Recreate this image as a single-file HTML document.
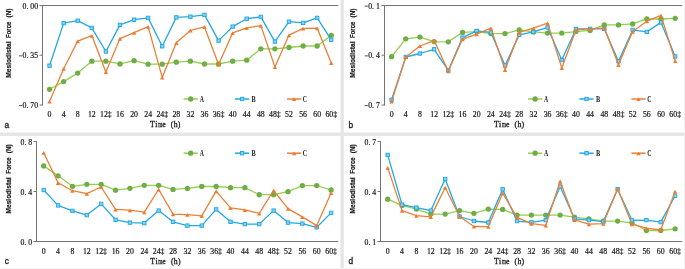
<!DOCTYPE html>
<html><head><meta charset="utf-8"><title>Mesiodistal force charts</title>
<style>
html,body{margin:0;padding:0;background:#fff;}
body{width:685px;height:269px;overflow:hidden;}
svg{display:block;will-change:transform;}
.t{font-family:"Liberation Serif",serif;font-size:7.80px;fill:#111;stroke:#111;stroke-width:0.18px;}
.lg{font-family:"Liberation Serif",serif;font-size:8.2px;font-weight:bold;fill:#222;}
.tt{font-family:"Liberation Serif",serif;font-size:7.8px;fill:#1a1a1a;stroke:#1a1a1a;stroke-width:0.3px;}
.yt{font-family:"Liberation Sans",sans-serif;font-size:6.9px;font-weight:bold;fill:#1a1a1a;stroke:#1a1a1a;stroke-width:0.2px;}
.pl{font-family:"Liberation Sans",sans-serif;font-size:8.3px;fill:#1a1a1a;stroke:#1a1a1a;stroke-width:0.3px;}
</style></head>
<body>
<svg width="685" height="269" viewBox="0 0 685 269">
<rect width="685" height="269" fill="#fff"/>
<rect x="340.5" y="0" width="3.3" height="269" fill="#e3e5e7"/>
<rect x="0" y="132.5" width="685" height="3.4" fill="#e3e5e7"/>
<rect x="684" y="0" width="1" height="269" fill="#f1f1f1"/>
<rect x="0" y="268" width="685" height="1" fill="#f5f5f5"/>
<path d="M42.5 5.0V105.5" stroke="#747474" stroke-width="1" fill="none"/>
<path d="M39.5 5.5H42.5" stroke="#747474" stroke-width="1"/>
<path d="M39.5 55.2H42.5" stroke="#747474" stroke-width="1"/>
<path d="M39.5 105.0H42.5" stroke="#747474" stroke-width="1"/>
<path d="M42.5 5.5H338.3" stroke="#747474" stroke-width="1"/>
<text class="t" x="22.50 26.40 30.30 34.20" y="8.70">0.00</text>
<rect x="19.00" y="55.45" width="3.2" height="0.85" fill="#3a3a3a"/><text class="t" x="22.50 26.40 30.30 34.20" y="58.45">0.35</text>
<rect x="19.00" y="105.20" width="3.2" height="0.85" fill="#3a3a3a"/><text class="t" x="22.50 26.40 30.30 34.20" y="108.20">0.70</text>
<text class="t" x="47.59" y="117.00">0</text>
<text class="t" x="61.68" y="117.00">4</text>
<text class="t" x="75.76" y="117.00">8</text>
<text class="t" x="87.90 91.80" y="117.00">12</text>
<text class="t" x="100.04 103.94 107.84" y="117.00">12‡</text>
<text class="t" x="116.07 119.97" y="117.00">16</text>
<text class="t" x="130.16 134.06" y="117.00">20</text>
<text class="t" x="144.24 148.14" y="117.00">24</text>
<text class="t" x="156.38 160.28 164.18" y="117.00">24‡</text>
<text class="t" x="172.41 176.31" y="117.00">28</text>
<text class="t" x="186.50 190.40" y="117.00">32</text>
<text class="t" x="200.59 204.49" y="117.00">36</text>
<text class="t" x="212.72 216.62 220.52" y="117.00">36‡</text>
<text class="t" x="228.76 232.66" y="117.00">40</text>
<text class="t" x="242.84 246.74" y="117.00">44</text>
<text class="t" x="256.93 260.83" y="117.00">48</text>
<text class="t" x="269.06 272.96 276.86" y="117.00">48‡</text>
<text class="t" x="285.10 289.00" y="117.00">52</text>
<text class="t" x="299.19 303.09" y="117.00">56</text>
<text class="t" x="313.27 317.17" y="117.00">60</text>
<text class="t" x="325.41 329.31 333.21" y="117.00">60‡</text>
<polyline points="49.54,89.30 63.63,81.60 77.71,73.10 91.80,61.20 105.89,61.20 119.97,63.90 134.06,60.70 148.14,64.20 162.23,64.20 176.31,62.20 190.40,61.20 204.49,64.00 218.57,64.00 232.66,61.20 246.74,60.20 260.83,48.80 274.91,48.80 289.00,47.50 303.09,46.00 317.17,46.00 331.26,35.30" fill="none" stroke="#92cf52" stroke-width="1.3" stroke-linejoin="round"/>
<circle cx="49.54" cy="89.30" r="2.65" fill="#6fad45"/>
<circle cx="63.63" cy="81.60" r="2.65" fill="#6fad45"/>
<circle cx="77.71" cy="73.10" r="2.65" fill="#6fad45"/>
<circle cx="91.80" cy="61.20" r="2.65" fill="#6fad45"/>
<circle cx="105.89" cy="61.20" r="2.65" fill="#6fad45"/>
<circle cx="119.97" cy="63.90" r="2.65" fill="#6fad45"/>
<circle cx="134.06" cy="60.70" r="2.65" fill="#6fad45"/>
<circle cx="148.14" cy="64.20" r="2.65" fill="#6fad45"/>
<circle cx="162.23" cy="64.20" r="2.65" fill="#6fad45"/>
<circle cx="176.31" cy="62.20" r="2.65" fill="#6fad45"/>
<circle cx="190.40" cy="61.20" r="2.65" fill="#6fad45"/>
<circle cx="204.49" cy="64.00" r="2.65" fill="#6fad45"/>
<circle cx="218.57" cy="64.00" r="2.65" fill="#6fad45"/>
<circle cx="232.66" cy="61.20" r="2.65" fill="#6fad45"/>
<circle cx="246.74" cy="60.20" r="2.65" fill="#6fad45"/>
<circle cx="260.83" cy="48.80" r="2.65" fill="#6fad45"/>
<circle cx="274.91" cy="48.80" r="2.65" fill="#6fad45"/>
<circle cx="289.00" cy="47.50" r="2.65" fill="#6fad45"/>
<circle cx="303.09" cy="46.00" r="2.65" fill="#6fad45"/>
<circle cx="317.17" cy="46.00" r="2.65" fill="#6fad45"/>
<circle cx="331.26" cy="35.30" r="2.65" fill="#6fad45"/>
<polyline points="49.54,65.70 63.63,23.10 77.71,20.70 91.80,27.90 105.89,51.50 119.97,24.90 134.06,19.70 148.14,17.90 162.23,46.30 176.31,17.40 190.40,16.70 204.49,14.90 218.57,40.60 232.66,26.60 246.74,18.70 260.83,16.90 274.91,41.60 289.00,21.70 303.09,22.90 317.17,17.90 331.26,39.80" fill="none" stroke="#25a8e1" stroke-width="1.3" stroke-linejoin="round"/>
<rect x="47.84" y="64.00" width="3.4" height="3.4" fill="#86d0f2" stroke="#1fa6e0" stroke-width="0.9"/>
<rect x="61.93" y="21.40" width="3.4" height="3.4" fill="#86d0f2" stroke="#1fa6e0" stroke-width="0.9"/>
<rect x="76.01" y="19.00" width="3.4" height="3.4" fill="#86d0f2" stroke="#1fa6e0" stroke-width="0.9"/>
<rect x="90.10" y="26.20" width="3.4" height="3.4" fill="#86d0f2" stroke="#1fa6e0" stroke-width="0.9"/>
<rect x="104.19" y="49.80" width="3.4" height="3.4" fill="#86d0f2" stroke="#1fa6e0" stroke-width="0.9"/>
<rect x="118.27" y="23.20" width="3.4" height="3.4" fill="#86d0f2" stroke="#1fa6e0" stroke-width="0.9"/>
<rect x="132.36" y="18.00" width="3.4" height="3.4" fill="#86d0f2" stroke="#1fa6e0" stroke-width="0.9"/>
<rect x="146.44" y="16.20" width="3.4" height="3.4" fill="#86d0f2" stroke="#1fa6e0" stroke-width="0.9"/>
<rect x="160.53" y="44.60" width="3.4" height="3.4" fill="#86d0f2" stroke="#1fa6e0" stroke-width="0.9"/>
<rect x="174.61" y="15.70" width="3.4" height="3.4" fill="#86d0f2" stroke="#1fa6e0" stroke-width="0.9"/>
<rect x="188.70" y="15.00" width="3.4" height="3.4" fill="#86d0f2" stroke="#1fa6e0" stroke-width="0.9"/>
<rect x="202.79" y="13.20" width="3.4" height="3.4" fill="#86d0f2" stroke="#1fa6e0" stroke-width="0.9"/>
<rect x="216.87" y="38.90" width="3.4" height="3.4" fill="#86d0f2" stroke="#1fa6e0" stroke-width="0.9"/>
<rect x="230.96" y="24.90" width="3.4" height="3.4" fill="#86d0f2" stroke="#1fa6e0" stroke-width="0.9"/>
<rect x="245.04" y="17.00" width="3.4" height="3.4" fill="#86d0f2" stroke="#1fa6e0" stroke-width="0.9"/>
<rect x="259.13" y="15.20" width="3.4" height="3.4" fill="#86d0f2" stroke="#1fa6e0" stroke-width="0.9"/>
<rect x="273.21" y="39.90" width="3.4" height="3.4" fill="#86d0f2" stroke="#1fa6e0" stroke-width="0.9"/>
<rect x="287.30" y="20.00" width="3.4" height="3.4" fill="#86d0f2" stroke="#1fa6e0" stroke-width="0.9"/>
<rect x="301.39" y="21.20" width="3.4" height="3.4" fill="#86d0f2" stroke="#1fa6e0" stroke-width="0.9"/>
<rect x="315.47" y="16.20" width="3.4" height="3.4" fill="#86d0f2" stroke="#1fa6e0" stroke-width="0.9"/>
<rect x="329.56" y="38.10" width="3.4" height="3.4" fill="#86d0f2" stroke="#1fa6e0" stroke-width="0.9"/>
<polyline points="49.54,101.50 63.63,68.70 77.71,41.10 91.80,35.60 105.89,71.90 119.97,38.60 134.06,32.60 148.14,26.60 162.23,77.40 176.31,42.80 190.40,30.40 204.49,26.90 218.57,64.40 232.66,32.90 246.74,27.90 260.83,25.60 274.91,66.90 289.00,35.10 303.09,28.40 317.17,28.10 331.26,63.00" fill="none" stroke="#ea8038" stroke-width="1.3" stroke-linejoin="round"/>
<path d="M49.54 99.80L51.79 103.60L47.29 103.60Z" fill="#ec7c30"/>
<path d="M63.63 67.00L65.88 70.80L61.38 70.80Z" fill="#ec7c30"/>
<path d="M77.71 39.40L79.96 43.20L75.46 43.20Z" fill="#ec7c30"/>
<path d="M91.80 33.90L94.05 37.70L89.55 37.70Z" fill="#ec7c30"/>
<path d="M105.89 70.20L108.14 74.00L103.64 74.00Z" fill="#ec7c30"/>
<path d="M119.97 36.90L122.22 40.70L117.72 40.70Z" fill="#ec7c30"/>
<path d="M134.06 30.90L136.31 34.70L131.81 34.70Z" fill="#ec7c30"/>
<path d="M148.14 24.90L150.39 28.70L145.89 28.70Z" fill="#ec7c30"/>
<path d="M162.23 75.70L164.48 79.50L159.98 79.50Z" fill="#ec7c30"/>
<path d="M176.31 41.10L178.56 44.90L174.06 44.90Z" fill="#ec7c30"/>
<path d="M190.40 28.70L192.65 32.50L188.15 32.50Z" fill="#ec7c30"/>
<path d="M204.49 25.20L206.74 29.00L202.24 29.00Z" fill="#ec7c30"/>
<path d="M218.57 62.70L220.82 66.50L216.32 66.50Z" fill="#ec7c30"/>
<path d="M232.66 31.20L234.91 35.00L230.41 35.00Z" fill="#ec7c30"/>
<path d="M246.74 26.20L248.99 30.00L244.49 30.00Z" fill="#ec7c30"/>
<path d="M260.83 23.90L263.08 27.70L258.58 27.70Z" fill="#ec7c30"/>
<path d="M274.91 65.20L277.16 69.00L272.66 69.00Z" fill="#ec7c30"/>
<path d="M289.00 33.40L291.25 37.20L286.75 37.20Z" fill="#ec7c30"/>
<path d="M303.09 26.70L305.34 30.50L300.84 30.50Z" fill="#ec7c30"/>
<path d="M317.17 26.40L319.42 30.20L314.92 30.20Z" fill="#ec7c30"/>
<path d="M331.26 61.30L333.51 65.10L329.01 65.10Z" fill="#ec7c30"/>
<path d="M183.60 99.00H197.80" stroke="#92cf52" stroke-width="1.5"/>
<circle cx="190.70" cy="99.00" r="2.65" fill="#6fad45"/>
<text class="lg" x="199.70" y="101.60" textLength="4.2" lengthAdjust="spacingAndGlyphs">A</text>
<path d="M235.00 99.00H249.20" stroke="#25a8e1" stroke-width="1.5"/>
<rect x="240.40" y="97.30" width="3.4" height="3.4" fill="#86d0f2" stroke="#1fa6e0" stroke-width="0.9"/>
<text class="lg" x="251.60" y="101.60" textLength="4.2" lengthAdjust="spacingAndGlyphs">B</text>
<path d="M287.00 99.00H301.20" stroke="#ea8038" stroke-width="1.5"/>
<path d="M294.10 97.30L296.35 101.10L291.85 101.10Z" fill="#ec7c30"/>
<text class="lg" x="302.80" y="101.60" textLength="4.2" lengthAdjust="spacingAndGlyphs">C</text>
<text class="tt" x="152.50" y="127.20" text-anchor="middle">T</text>
<text class="tt" x="156.30" y="127.20" text-anchor="middle">i</text>
<text class="tt" x="160.10" y="127.20" text-anchor="middle" textLength="3.9" lengthAdjust="spacingAndGlyphs">m</text>
<text class="tt" x="163.90" y="127.20" text-anchor="middle">e</text>
<text class="tt" x="172.00" y="127.20" text-anchor="middle">(</text>
<text class="tt" x="175.60" y="127.20" text-anchor="middle">h</text>
<text class="tt" x="179.00" y="127.20" text-anchor="middle">)</text>
<text class="yt" transform="translate(11.40 77.80) rotate(-90)" textLength="36.3" lengthAdjust="spacingAndGlyphs">Mesiodistal</text>
<text class="yt" transform="translate(11.40 37.90) rotate(-90)" textLength="16.2" lengthAdjust="spacingAndGlyphs">Force</text>
<text class="yt" transform="translate(11.40 17.40) rotate(-90)" textLength="8.8" lengthAdjust="spacingAndGlyphs">(N)</text>
<text class="pl" x="4.60" y="127.80">a</text>
<path d="M384.5 5.0V105.5" stroke="#747474" stroke-width="1" fill="none"/>
<path d="M381.5 5.5H384.5" stroke="#747474" stroke-width="1"/>
<path d="M381.5 55.2H384.5" stroke="#747474" stroke-width="1"/>
<path d="M381.5 105.0H384.5" stroke="#747474" stroke-width="1"/>
<path d="M384.5 5.5H682.3" stroke="#747474" stroke-width="1"/>
<rect x="364.70" y="5.70" width="3.2" height="0.85" fill="#3a3a3a"/><text class="t" x="368.20 372.10 376.00" y="8.70">0.1</text>
<rect x="364.70" y="55.45" width="3.2" height="0.85" fill="#3a3a3a"/><text class="t" x="368.20 372.10 376.00" y="58.45">0.4</text>
<rect x="364.70" y="105.20" width="3.2" height="0.85" fill="#3a3a3a"/><text class="t" x="368.20 372.10 376.00" y="108.20">0.7</text>
<text class="t" x="389.64" y="117.00">0</text>
<text class="t" x="403.82" y="117.00">4</text>
<text class="t" x="418.00" y="117.00">8</text>
<text class="t" x="430.23 434.13" y="117.00">12</text>
<text class="t" x="442.46 446.36 450.26" y="117.00">12‡</text>
<text class="t" x="458.60 462.50" y="117.00">16</text>
<text class="t" x="472.78 476.68" y="117.00">20</text>
<text class="t" x="486.96 490.86" y="117.00">24</text>
<text class="t" x="499.19 503.09 506.99" y="117.00">24‡</text>
<text class="t" x="515.32 519.22" y="117.00">28</text>
<text class="t" x="529.50 533.40" y="117.00">32</text>
<text class="t" x="543.68 547.58" y="117.00">36</text>
<text class="t" x="555.91 559.81 563.71" y="117.00">36‡</text>
<text class="t" x="572.04 575.94" y="117.00">40</text>
<text class="t" x="586.22 590.12" y="117.00">44</text>
<text class="t" x="600.40 604.30" y="117.00">48</text>
<text class="t" x="612.64 616.54 620.44" y="117.00">48‡</text>
<text class="t" x="628.77 632.67" y="117.00">52</text>
<text class="t" x="642.95 646.85" y="117.00">56</text>
<text class="t" x="657.13 661.03" y="117.00">60</text>
<text class="t" x="669.36 673.26 677.16" y="117.00">60‡</text>
<polyline points="391.59,56.70 405.77,38.80 419.95,37.10 434.13,41.60 448.31,41.80 462.50,32.40 476.68,31.60 490.86,33.60 505.04,33.60 519.22,29.90 533.40,31.90 547.58,33.10 561.76,33.10 575.94,31.60 590.12,30.40 604.30,24.90 618.49,24.90 632.67,23.90 646.85,18.90 661.03,19.00 675.21,18.30" fill="none" stroke="#92cf52" stroke-width="1.3" stroke-linejoin="round"/>
<circle cx="391.59" cy="56.70" r="2.65" fill="#6fad45"/>
<circle cx="405.77" cy="38.80" r="2.65" fill="#6fad45"/>
<circle cx="419.95" cy="37.10" r="2.65" fill="#6fad45"/>
<circle cx="434.13" cy="41.60" r="2.65" fill="#6fad45"/>
<circle cx="448.31" cy="41.80" r="2.65" fill="#6fad45"/>
<circle cx="462.50" cy="32.40" r="2.65" fill="#6fad45"/>
<circle cx="476.68" cy="31.60" r="2.65" fill="#6fad45"/>
<circle cx="490.86" cy="33.60" r="2.65" fill="#6fad45"/>
<circle cx="505.04" cy="33.60" r="2.65" fill="#6fad45"/>
<circle cx="519.22" cy="29.90" r="2.65" fill="#6fad45"/>
<circle cx="533.40" cy="31.90" r="2.65" fill="#6fad45"/>
<circle cx="547.58" cy="33.10" r="2.65" fill="#6fad45"/>
<circle cx="561.76" cy="33.10" r="2.65" fill="#6fad45"/>
<circle cx="575.94" cy="31.60" r="2.65" fill="#6fad45"/>
<circle cx="590.12" cy="30.40" r="2.65" fill="#6fad45"/>
<circle cx="604.30" cy="24.90" r="2.65" fill="#6fad45"/>
<circle cx="618.49" cy="24.90" r="2.65" fill="#6fad45"/>
<circle cx="632.67" cy="23.90" r="2.65" fill="#6fad45"/>
<circle cx="646.85" cy="18.90" r="2.65" fill="#6fad45"/>
<circle cx="661.03" cy="19.00" r="2.65" fill="#6fad45"/>
<circle cx="675.21" cy="18.30" r="2.65" fill="#6fad45"/>
<polyline points="391.59,99.80 405.77,57.00 419.95,53.50 434.13,49.30 448.31,70.40 462.50,37.60 476.68,30.90 490.86,32.40 505.04,65.50 519.22,34.80 533.40,31.90 547.58,27.40 561.76,60.00 575.94,28.90 590.12,28.90 604.30,28.90 618.49,61.20 632.67,29.90 646.85,31.90 661.03,22.40 675.21,56.50" fill="none" stroke="#25a8e1" stroke-width="1.3" stroke-linejoin="round"/>
<rect x="389.89" y="98.10" width="3.4" height="3.4" fill="#86d0f2" stroke="#1fa6e0" stroke-width="0.9"/>
<rect x="404.07" y="55.30" width="3.4" height="3.4" fill="#86d0f2" stroke="#1fa6e0" stroke-width="0.9"/>
<rect x="418.25" y="51.80" width="3.4" height="3.4" fill="#86d0f2" stroke="#1fa6e0" stroke-width="0.9"/>
<rect x="432.43" y="47.60" width="3.4" height="3.4" fill="#86d0f2" stroke="#1fa6e0" stroke-width="0.9"/>
<rect x="446.61" y="68.70" width="3.4" height="3.4" fill="#86d0f2" stroke="#1fa6e0" stroke-width="0.9"/>
<rect x="460.80" y="35.90" width="3.4" height="3.4" fill="#86d0f2" stroke="#1fa6e0" stroke-width="0.9"/>
<rect x="474.98" y="29.20" width="3.4" height="3.4" fill="#86d0f2" stroke="#1fa6e0" stroke-width="0.9"/>
<rect x="489.16" y="30.70" width="3.4" height="3.4" fill="#86d0f2" stroke="#1fa6e0" stroke-width="0.9"/>
<rect x="503.34" y="63.80" width="3.4" height="3.4" fill="#86d0f2" stroke="#1fa6e0" stroke-width="0.9"/>
<rect x="517.52" y="33.10" width="3.4" height="3.4" fill="#86d0f2" stroke="#1fa6e0" stroke-width="0.9"/>
<rect x="531.70" y="30.20" width="3.4" height="3.4" fill="#86d0f2" stroke="#1fa6e0" stroke-width="0.9"/>
<rect x="545.88" y="25.70" width="3.4" height="3.4" fill="#86d0f2" stroke="#1fa6e0" stroke-width="0.9"/>
<rect x="560.06" y="58.30" width="3.4" height="3.4" fill="#86d0f2" stroke="#1fa6e0" stroke-width="0.9"/>
<rect x="574.24" y="27.20" width="3.4" height="3.4" fill="#86d0f2" stroke="#1fa6e0" stroke-width="0.9"/>
<rect x="588.42" y="27.20" width="3.4" height="3.4" fill="#86d0f2" stroke="#1fa6e0" stroke-width="0.9"/>
<rect x="602.60" y="27.20" width="3.4" height="3.4" fill="#86d0f2" stroke="#1fa6e0" stroke-width="0.9"/>
<rect x="616.79" y="59.50" width="3.4" height="3.4" fill="#86d0f2" stroke="#1fa6e0" stroke-width="0.9"/>
<rect x="630.97" y="28.20" width="3.4" height="3.4" fill="#86d0f2" stroke="#1fa6e0" stroke-width="0.9"/>
<rect x="645.15" y="30.20" width="3.4" height="3.4" fill="#86d0f2" stroke="#1fa6e0" stroke-width="0.9"/>
<rect x="659.33" y="20.70" width="3.4" height="3.4" fill="#86d0f2" stroke="#1fa6e0" stroke-width="0.9"/>
<rect x="673.51" y="54.80" width="3.4" height="3.4" fill="#86d0f2" stroke="#1fa6e0" stroke-width="0.9"/>
<polyline points="391.59,101.50 405.77,57.00 419.95,46.00 434.13,40.60 448.31,71.20 462.50,39.10 476.68,34.10 490.86,28.10 505.04,69.90 519.22,32.40 533.40,28.10 547.58,23.10 561.76,67.90 575.94,29.90 590.12,28.90 604.30,27.90 618.49,64.80 632.67,31.60 646.85,21.20 661.03,15.40 675.21,61.00" fill="none" stroke="#ea8038" stroke-width="1.3" stroke-linejoin="round"/>
<path d="M391.59 99.80L393.84 103.60L389.34 103.60Z" fill="#ec7c30"/>
<path d="M405.77 55.30L408.02 59.10L403.52 59.10Z" fill="#ec7c30"/>
<path d="M419.95 44.30L422.20 48.10L417.70 48.10Z" fill="#ec7c30"/>
<path d="M434.13 38.90L436.38 42.70L431.88 42.70Z" fill="#ec7c30"/>
<path d="M448.31 69.50L450.56 73.30L446.06 73.30Z" fill="#ec7c30"/>
<path d="M462.50 37.40L464.75 41.20L460.25 41.20Z" fill="#ec7c30"/>
<path d="M476.68 32.40L478.93 36.20L474.43 36.20Z" fill="#ec7c30"/>
<path d="M490.86 26.40L493.11 30.20L488.61 30.20Z" fill="#ec7c30"/>
<path d="M505.04 68.20L507.29 72.00L502.79 72.00Z" fill="#ec7c30"/>
<path d="M519.22 30.70L521.47 34.50L516.97 34.50Z" fill="#ec7c30"/>
<path d="M533.40 26.40L535.65 30.20L531.15 30.20Z" fill="#ec7c30"/>
<path d="M547.58 21.40L549.83 25.20L545.33 25.20Z" fill="#ec7c30"/>
<path d="M561.76 66.20L564.01 70.00L559.51 70.00Z" fill="#ec7c30"/>
<path d="M575.94 28.20L578.19 32.00L573.69 32.00Z" fill="#ec7c30"/>
<path d="M590.12 27.20L592.37 31.00L587.87 31.00Z" fill="#ec7c30"/>
<path d="M604.30 26.20L606.55 30.00L602.05 30.00Z" fill="#ec7c30"/>
<path d="M618.49 63.10L620.74 66.90L616.24 66.90Z" fill="#ec7c30"/>
<path d="M632.67 29.90L634.92 33.70L630.42 33.70Z" fill="#ec7c30"/>
<path d="M646.85 19.50L649.10 23.30L644.60 23.30Z" fill="#ec7c30"/>
<path d="M661.03 13.70L663.28 17.50L658.78 17.50Z" fill="#ec7c30"/>
<path d="M675.21 59.30L677.46 63.10L672.96 63.10Z" fill="#ec7c30"/>
<path d="M528.00 99.00H542.20" stroke="#92cf52" stroke-width="1.5"/>
<circle cx="535.10" cy="99.00" r="2.65" fill="#6fad45"/>
<text class="lg" x="544.10" y="101.60" textLength="4.2" lengthAdjust="spacingAndGlyphs">A</text>
<path d="M579.40 99.00H593.60" stroke="#25a8e1" stroke-width="1.5"/>
<rect x="584.80" y="97.30" width="3.4" height="3.4" fill="#86d0f2" stroke="#1fa6e0" stroke-width="0.9"/>
<text class="lg" x="596.00" y="101.60" textLength="4.2" lengthAdjust="spacingAndGlyphs">B</text>
<path d="M631.40 99.00H645.60" stroke="#ea8038" stroke-width="1.5"/>
<path d="M638.50 97.30L640.75 101.10L636.25 101.10Z" fill="#ec7c30"/>
<text class="lg" x="647.20" y="101.60" textLength="4.2" lengthAdjust="spacingAndGlyphs">C</text>
<text class="tt" x="496.40" y="127.20" text-anchor="middle">T</text>
<text class="tt" x="500.20" y="127.20" text-anchor="middle">i</text>
<text class="tt" x="504.00" y="127.20" text-anchor="middle" textLength="3.9" lengthAdjust="spacingAndGlyphs">m</text>
<text class="tt" x="507.80" y="127.20" text-anchor="middle">e</text>
<text class="tt" x="515.90" y="127.20" text-anchor="middle">(</text>
<text class="tt" x="519.50" y="127.20" text-anchor="middle">h</text>
<text class="tt" x="522.90" y="127.20" text-anchor="middle">)</text>
<text class="yt" transform="translate(355.40 77.80) rotate(-90)" textLength="36.3" lengthAdjust="spacingAndGlyphs">Mesiodistal</text>
<text class="yt" transform="translate(355.40 37.90) rotate(-90)" textLength="16.2" lengthAdjust="spacingAndGlyphs">Force</text>
<text class="yt" transform="translate(355.40 17.40) rotate(-90)" textLength="8.8" lengthAdjust="spacingAndGlyphs">(N)</text>
<text class="pl" x="348.60" y="127.80">b</text>
<path d="M36.5 141.0V242.0" stroke="#747474" stroke-width="1" fill="none"/>
<path d="M33.5 141.5H36.5" stroke="#747474" stroke-width="1"/>
<path d="M33.5 191.5H36.5" stroke="#747474" stroke-width="1"/>
<path d="M33.5 241.5H36.5" stroke="#747474" stroke-width="1"/>
<path d="M36.5 241.5H338.3" stroke="#747474" stroke-width="1"/>
<text class="t" x="20.50 24.40 28.30" y="144.70">0.8</text>
<text class="t" x="20.50 24.40 28.30" y="194.70">0.4</text>
<text class="t" x="20.50 24.40 28.30" y="244.70">0.0</text>
<text class="t" x="41.74" y="253.50">0</text>
<text class="t" x="56.11" y="253.50">4</text>
<text class="t" x="70.48" y="253.50">8</text>
<text class="t" x="82.90 86.80" y="253.50">12</text>
<text class="t" x="95.32 99.22 103.12" y="253.50">12‡</text>
<text class="t" x="111.64 115.54" y="253.50">16</text>
<text class="t" x="126.01 129.91" y="253.50">20</text>
<text class="t" x="140.39 144.29" y="253.50">24</text>
<text class="t" x="152.81 156.71 160.61" y="253.50">24‡</text>
<text class="t" x="169.13 173.03" y="253.50">28</text>
<text class="t" x="183.50 187.40" y="253.50">32</text>
<text class="t" x="197.87 201.77" y="253.50">36</text>
<text class="t" x="210.29 214.19 218.09" y="253.50">36‡</text>
<text class="t" x="226.61 230.51" y="253.50">40</text>
<text class="t" x="240.99 244.89" y="253.50">44</text>
<text class="t" x="255.36 259.26" y="253.50">48</text>
<text class="t" x="267.78 271.68 275.58" y="253.50">48‡</text>
<text class="t" x="284.10 288.00" y="253.50">52</text>
<text class="t" x="298.47 302.37" y="253.50">56</text>
<text class="t" x="312.84 316.74" y="253.50">60</text>
<text class="t" x="325.26 329.16 333.06" y="253.50">60‡</text>
<polyline points="43.69,165.90 58.06,175.80 72.43,186.30 86.80,184.30 101.17,184.30 115.54,190.20 129.91,188.30 144.29,185.30 158.66,185.30 173.03,189.40 187.40,188.40 201.77,186.50 216.14,186.50 230.51,187.70 244.89,187.70 259.26,194.70 273.63,194.70 288.00,191.70 302.37,185.60 316.74,185.60 331.11,190.00" fill="none" stroke="#92cf52" stroke-width="1.3" stroke-linejoin="round"/>
<circle cx="43.69" cy="165.90" r="2.65" fill="#6fad45"/>
<circle cx="58.06" cy="175.80" r="2.65" fill="#6fad45"/>
<circle cx="72.43" cy="186.30" r="2.65" fill="#6fad45"/>
<circle cx="86.80" cy="184.30" r="2.65" fill="#6fad45"/>
<circle cx="101.17" cy="184.30" r="2.65" fill="#6fad45"/>
<circle cx="115.54" cy="190.20" r="2.65" fill="#6fad45"/>
<circle cx="129.91" cy="188.30" r="2.65" fill="#6fad45"/>
<circle cx="144.29" cy="185.30" r="2.65" fill="#6fad45"/>
<circle cx="158.66" cy="185.30" r="2.65" fill="#6fad45"/>
<circle cx="173.03" cy="189.40" r="2.65" fill="#6fad45"/>
<circle cx="187.40" cy="188.40" r="2.65" fill="#6fad45"/>
<circle cx="201.77" cy="186.50" r="2.65" fill="#6fad45"/>
<circle cx="216.14" cy="186.50" r="2.65" fill="#6fad45"/>
<circle cx="230.51" cy="187.70" r="2.65" fill="#6fad45"/>
<circle cx="244.89" cy="187.70" r="2.65" fill="#6fad45"/>
<circle cx="259.26" cy="194.70" r="2.65" fill="#6fad45"/>
<circle cx="273.63" cy="194.70" r="2.65" fill="#6fad45"/>
<circle cx="288.00" cy="191.70" r="2.65" fill="#6fad45"/>
<circle cx="302.37" cy="185.60" r="2.65" fill="#6fad45"/>
<circle cx="316.74" cy="185.60" r="2.65" fill="#6fad45"/>
<circle cx="331.11" cy="190.00" r="2.65" fill="#6fad45"/>
<polyline points="43.69,190.00 58.06,205.40 72.43,210.90 86.80,215.10 101.17,203.90 115.54,219.80 129.91,222.60 144.29,223.10 158.66,210.60 173.03,221.80 187.40,225.60 201.77,225.60 216.14,209.40 230.51,221.80 244.89,224.10 259.26,224.10 273.63,210.60 288.00,222.60 302.37,223.60 316.74,227.30 331.11,212.90" fill="none" stroke="#25a8e1" stroke-width="1.3" stroke-linejoin="round"/>
<rect x="41.99" y="188.30" width="3.4" height="3.4" fill="#86d0f2" stroke="#1fa6e0" stroke-width="0.9"/>
<rect x="56.36" y="203.70" width="3.4" height="3.4" fill="#86d0f2" stroke="#1fa6e0" stroke-width="0.9"/>
<rect x="70.73" y="209.20" width="3.4" height="3.4" fill="#86d0f2" stroke="#1fa6e0" stroke-width="0.9"/>
<rect x="85.10" y="213.40" width="3.4" height="3.4" fill="#86d0f2" stroke="#1fa6e0" stroke-width="0.9"/>
<rect x="99.47" y="202.20" width="3.4" height="3.4" fill="#86d0f2" stroke="#1fa6e0" stroke-width="0.9"/>
<rect x="113.84" y="218.10" width="3.4" height="3.4" fill="#86d0f2" stroke="#1fa6e0" stroke-width="0.9"/>
<rect x="128.21" y="220.90" width="3.4" height="3.4" fill="#86d0f2" stroke="#1fa6e0" stroke-width="0.9"/>
<rect x="142.59" y="221.40" width="3.4" height="3.4" fill="#86d0f2" stroke="#1fa6e0" stroke-width="0.9"/>
<rect x="156.96" y="208.90" width="3.4" height="3.4" fill="#86d0f2" stroke="#1fa6e0" stroke-width="0.9"/>
<rect x="171.33" y="220.10" width="3.4" height="3.4" fill="#86d0f2" stroke="#1fa6e0" stroke-width="0.9"/>
<rect x="185.70" y="223.90" width="3.4" height="3.4" fill="#86d0f2" stroke="#1fa6e0" stroke-width="0.9"/>
<rect x="200.07" y="223.90" width="3.4" height="3.4" fill="#86d0f2" stroke="#1fa6e0" stroke-width="0.9"/>
<rect x="214.44" y="207.70" width="3.4" height="3.4" fill="#86d0f2" stroke="#1fa6e0" stroke-width="0.9"/>
<rect x="228.81" y="220.10" width="3.4" height="3.4" fill="#86d0f2" stroke="#1fa6e0" stroke-width="0.9"/>
<rect x="243.19" y="222.40" width="3.4" height="3.4" fill="#86d0f2" stroke="#1fa6e0" stroke-width="0.9"/>
<rect x="257.56" y="222.40" width="3.4" height="3.4" fill="#86d0f2" stroke="#1fa6e0" stroke-width="0.9"/>
<rect x="271.93" y="208.90" width="3.4" height="3.4" fill="#86d0f2" stroke="#1fa6e0" stroke-width="0.9"/>
<rect x="286.30" y="220.90" width="3.4" height="3.4" fill="#86d0f2" stroke="#1fa6e0" stroke-width="0.9"/>
<rect x="300.67" y="221.90" width="3.4" height="3.4" fill="#86d0f2" stroke="#1fa6e0" stroke-width="0.9"/>
<rect x="315.04" y="225.60" width="3.4" height="3.4" fill="#86d0f2" stroke="#1fa6e0" stroke-width="0.9"/>
<rect x="329.41" y="211.20" width="3.4" height="3.4" fill="#86d0f2" stroke="#1fa6e0" stroke-width="0.9"/>
<polyline points="43.69,152.70 58.06,182.80 72.43,190.70 86.80,193.70 101.17,187.00 115.54,209.40 129.91,210.10 144.29,212.10 158.66,189.50 173.03,214.10 187.40,214.60 201.77,215.90 216.14,191.20 230.51,207.90 244.89,209.90 259.26,213.40 273.63,190.50 288.00,208.60 302.37,216.90 316.74,225.60 331.11,193.00" fill="none" stroke="#ea8038" stroke-width="1.3" stroke-linejoin="round"/>
<path d="M43.69 151.00L45.94 154.80L41.44 154.80Z" fill="#ec7c30"/>
<path d="M58.06 181.10L60.31 184.90L55.81 184.90Z" fill="#ec7c30"/>
<path d="M72.43 189.00L74.68 192.80L70.18 192.80Z" fill="#ec7c30"/>
<path d="M86.80 192.00L89.05 195.80L84.55 195.80Z" fill="#ec7c30"/>
<path d="M101.17 185.30L103.42 189.10L98.92 189.10Z" fill="#ec7c30"/>
<path d="M115.54 207.70L117.79 211.50L113.29 211.50Z" fill="#ec7c30"/>
<path d="M129.91 208.40L132.16 212.20L127.66 212.20Z" fill="#ec7c30"/>
<path d="M144.29 210.40L146.54 214.20L142.04 214.20Z" fill="#ec7c30"/>
<path d="M158.66 187.80L160.91 191.60L156.41 191.60Z" fill="#ec7c30"/>
<path d="M173.03 212.40L175.28 216.20L170.78 216.20Z" fill="#ec7c30"/>
<path d="M187.40 212.90L189.65 216.70L185.15 216.70Z" fill="#ec7c30"/>
<path d="M201.77 214.20L204.02 218.00L199.52 218.00Z" fill="#ec7c30"/>
<path d="M216.14 189.50L218.39 193.30L213.89 193.30Z" fill="#ec7c30"/>
<path d="M230.51 206.20L232.76 210.00L228.26 210.00Z" fill="#ec7c30"/>
<path d="M244.89 208.20L247.14 212.00L242.64 212.00Z" fill="#ec7c30"/>
<path d="M259.26 211.70L261.51 215.50L257.01 215.50Z" fill="#ec7c30"/>
<path d="M273.63 188.80L275.88 192.60L271.38 192.60Z" fill="#ec7c30"/>
<path d="M288.00 206.90L290.25 210.70L285.75 210.70Z" fill="#ec7c30"/>
<path d="M302.37 215.20L304.62 219.00L300.12 219.00Z" fill="#ec7c30"/>
<path d="M316.74 223.90L318.99 227.70L314.49 227.70Z" fill="#ec7c30"/>
<path d="M331.11 191.30L333.36 195.10L328.86 195.10Z" fill="#ec7c30"/>
<path d="M183.60 153.20H197.80" stroke="#92cf52" stroke-width="1.5"/>
<circle cx="190.70" cy="153.20" r="2.65" fill="#6fad45"/>
<text class="lg" x="199.70" y="155.80" textLength="4.2" lengthAdjust="spacingAndGlyphs">A</text>
<path d="M235.00 153.20H249.20" stroke="#25a8e1" stroke-width="1.5"/>
<rect x="240.40" y="151.50" width="3.4" height="3.4" fill="#86d0f2" stroke="#1fa6e0" stroke-width="0.9"/>
<text class="lg" x="251.60" y="155.80" textLength="4.2" lengthAdjust="spacingAndGlyphs">B</text>
<path d="M287.00 153.20H301.20" stroke="#ea8038" stroke-width="1.5"/>
<path d="M294.10 151.50L296.35 155.30L291.85 155.30Z" fill="#ec7c30"/>
<text class="lg" x="302.80" y="155.80" textLength="4.2" lengthAdjust="spacingAndGlyphs">C</text>
<text class="tt" x="152.70" y="263.80" text-anchor="middle">T</text>
<text class="tt" x="156.50" y="263.80" text-anchor="middle">i</text>
<text class="tt" x="160.30" y="263.80" text-anchor="middle" textLength="3.9" lengthAdjust="spacingAndGlyphs">m</text>
<text class="tt" x="164.10" y="263.80" text-anchor="middle">e</text>
<text class="tt" x="172.20" y="263.80" text-anchor="middle">(</text>
<text class="tt" x="175.80" y="263.80" text-anchor="middle">h</text>
<text class="tt" x="179.20" y="263.80" text-anchor="middle">)</text>
<text class="yt" transform="translate(11.40 213.60) rotate(-90)" textLength="36.3" lengthAdjust="spacingAndGlyphs">Mesiodistal</text>
<text class="yt" transform="translate(11.40 173.70) rotate(-90)" textLength="16.2" lengthAdjust="spacingAndGlyphs">Force</text>
<text class="yt" transform="translate(11.40 153.20) rotate(-90)" textLength="8.8" lengthAdjust="spacingAndGlyphs">(N)</text>
<text class="pl" x="4.80" y="264.00">c</text>
<path d="M380.5 141.0V242.0" stroke="#747474" stroke-width="1" fill="none"/>
<path d="M377.5 141.5H380.5" stroke="#747474" stroke-width="1"/>
<path d="M377.5 191.5H380.5" stroke="#747474" stroke-width="1"/>
<path d="M377.5 241.5H380.5" stroke="#747474" stroke-width="1"/>
<path d="M380.5 241.5H682.3" stroke="#747474" stroke-width="1"/>
<text class="t" x="364.50 368.40 372.30" y="144.70">0.7</text>
<text class="t" x="364.50 368.40 372.30" y="194.70">0.4</text>
<text class="t" x="364.50 368.40 372.30" y="244.70">0.1</text>
<text class="t" x="385.74" y="253.50">0</text>
<text class="t" x="400.11" y="253.50">4</text>
<text class="t" x="414.48" y="253.50">8</text>
<text class="t" x="426.90 430.80" y="253.50">12</text>
<text class="t" x="439.32 443.22 447.12" y="253.50">12‡</text>
<text class="t" x="455.64 459.54" y="253.50">16</text>
<text class="t" x="470.01 473.91" y="253.50">20</text>
<text class="t" x="484.39 488.29" y="253.50">24</text>
<text class="t" x="496.81 500.71 504.61" y="253.50">24‡</text>
<text class="t" x="513.13 517.03" y="253.50">28</text>
<text class="t" x="527.50 531.40" y="253.50">32</text>
<text class="t" x="541.87 545.77" y="253.50">36</text>
<text class="t" x="554.29 558.19 562.09" y="253.50">36‡</text>
<text class="t" x="570.61 574.51" y="253.50">40</text>
<text class="t" x="584.99 588.89" y="253.50">44</text>
<text class="t" x="599.36 603.26" y="253.50">48</text>
<text class="t" x="611.78 615.68 619.58" y="253.50">48‡</text>
<text class="t" x="628.10 632.00" y="253.50">52</text>
<text class="t" x="642.47 646.37" y="253.50">56</text>
<text class="t" x="656.84 660.74" y="253.50">60</text>
<text class="t" x="669.26 673.16 677.06" y="253.50">60‡</text>
<polyline points="387.69,199.20 402.06,205.40 416.43,209.10 430.80,214.10 445.17,214.10 459.54,210.60 473.91,213.30 488.29,209.10 502.66,209.40 517.03,215.10 531.40,215.10 545.77,215.10 560.14,215.10 574.51,217.10 588.89,218.80 603.26,221.10 617.63,221.10 632.00,222.80 646.37,230.50 660.74,230.50 675.11,228.80" fill="none" stroke="#92cf52" stroke-width="1.3" stroke-linejoin="round"/>
<circle cx="387.69" cy="199.20" r="2.65" fill="#6fad45"/>
<circle cx="402.06" cy="205.40" r="2.65" fill="#6fad45"/>
<circle cx="416.43" cy="209.10" r="2.65" fill="#6fad45"/>
<circle cx="430.80" cy="214.10" r="2.65" fill="#6fad45"/>
<circle cx="445.17" cy="214.10" r="2.65" fill="#6fad45"/>
<circle cx="459.54" cy="210.60" r="2.65" fill="#6fad45"/>
<circle cx="473.91" cy="213.30" r="2.65" fill="#6fad45"/>
<circle cx="488.29" cy="209.10" r="2.65" fill="#6fad45"/>
<circle cx="502.66" cy="209.40" r="2.65" fill="#6fad45"/>
<circle cx="517.03" cy="215.10" r="2.65" fill="#6fad45"/>
<circle cx="531.40" cy="215.10" r="2.65" fill="#6fad45"/>
<circle cx="545.77" cy="215.10" r="2.65" fill="#6fad45"/>
<circle cx="560.14" cy="215.10" r="2.65" fill="#6fad45"/>
<circle cx="574.51" cy="217.10" r="2.65" fill="#6fad45"/>
<circle cx="588.89" cy="218.80" r="2.65" fill="#6fad45"/>
<circle cx="603.26" cy="221.10" r="2.65" fill="#6fad45"/>
<circle cx="617.63" cy="221.10" r="2.65" fill="#6fad45"/>
<circle cx="632.00" cy="222.80" r="2.65" fill="#6fad45"/>
<circle cx="646.37" cy="230.50" r="2.65" fill="#6fad45"/>
<circle cx="660.74" cy="230.50" r="2.65" fill="#6fad45"/>
<circle cx="675.11" cy="228.80" r="2.65" fill="#6fad45"/>
<polyline points="387.69,154.90 402.06,204.70 416.43,207.60 430.80,210.60 445.17,179.10 459.54,216.50 473.91,221.00 488.29,222.50 502.66,189.30 517.03,221.10 531.40,222.30 545.77,220.10 560.14,186.50 574.51,218.80 588.89,220.10 603.26,221.60 617.63,189.20 632.00,220.30 646.37,220.10 660.74,222.10 675.11,195.70" fill="none" stroke="#25a8e1" stroke-width="1.3" stroke-linejoin="round"/>
<rect x="385.99" y="153.20" width="3.4" height="3.4" fill="#86d0f2" stroke="#1fa6e0" stroke-width="0.9"/>
<rect x="400.36" y="203.00" width="3.4" height="3.4" fill="#86d0f2" stroke="#1fa6e0" stroke-width="0.9"/>
<rect x="414.73" y="205.90" width="3.4" height="3.4" fill="#86d0f2" stroke="#1fa6e0" stroke-width="0.9"/>
<rect x="429.10" y="208.90" width="3.4" height="3.4" fill="#86d0f2" stroke="#1fa6e0" stroke-width="0.9"/>
<rect x="443.47" y="177.40" width="3.4" height="3.4" fill="#86d0f2" stroke="#1fa6e0" stroke-width="0.9"/>
<rect x="457.84" y="214.80" width="3.4" height="3.4" fill="#86d0f2" stroke="#1fa6e0" stroke-width="0.9"/>
<rect x="472.21" y="219.30" width="3.4" height="3.4" fill="#86d0f2" stroke="#1fa6e0" stroke-width="0.9"/>
<rect x="486.59" y="220.80" width="3.4" height="3.4" fill="#86d0f2" stroke="#1fa6e0" stroke-width="0.9"/>
<rect x="500.96" y="187.60" width="3.4" height="3.4" fill="#86d0f2" stroke="#1fa6e0" stroke-width="0.9"/>
<rect x="515.33" y="219.40" width="3.4" height="3.4" fill="#86d0f2" stroke="#1fa6e0" stroke-width="0.9"/>
<rect x="529.70" y="220.60" width="3.4" height="3.4" fill="#86d0f2" stroke="#1fa6e0" stroke-width="0.9"/>
<rect x="544.07" y="218.40" width="3.4" height="3.4" fill="#86d0f2" stroke="#1fa6e0" stroke-width="0.9"/>
<rect x="558.44" y="184.80" width="3.4" height="3.4" fill="#86d0f2" stroke="#1fa6e0" stroke-width="0.9"/>
<rect x="572.81" y="217.10" width="3.4" height="3.4" fill="#86d0f2" stroke="#1fa6e0" stroke-width="0.9"/>
<rect x="587.19" y="218.40" width="3.4" height="3.4" fill="#86d0f2" stroke="#1fa6e0" stroke-width="0.9"/>
<rect x="601.56" y="219.90" width="3.4" height="3.4" fill="#86d0f2" stroke="#1fa6e0" stroke-width="0.9"/>
<rect x="615.93" y="187.50" width="3.4" height="3.4" fill="#86d0f2" stroke="#1fa6e0" stroke-width="0.9"/>
<rect x="630.30" y="218.60" width="3.4" height="3.4" fill="#86d0f2" stroke="#1fa6e0" stroke-width="0.9"/>
<rect x="644.67" y="218.40" width="3.4" height="3.4" fill="#86d0f2" stroke="#1fa6e0" stroke-width="0.9"/>
<rect x="659.04" y="220.40" width="3.4" height="3.4" fill="#86d0f2" stroke="#1fa6e0" stroke-width="0.9"/>
<rect x="673.41" y="194.00" width="3.4" height="3.4" fill="#86d0f2" stroke="#1fa6e0" stroke-width="0.9"/>
<polyline points="387.69,167.60 402.06,210.60 416.43,215.60 430.80,216.90 445.17,187.50 459.54,216.50 473.91,226.50 488.29,226.60 502.66,193.20 517.03,217.40 531.40,223.60 545.77,225.30 560.14,181.30 574.51,219.80 588.89,224.10 603.26,223.60 617.63,189.00 632.00,224.10 646.37,228.10 660.74,230.00 675.11,191.50" fill="none" stroke="#ea8038" stroke-width="1.3" stroke-linejoin="round"/>
<path d="M387.69 165.90L389.94 169.70L385.44 169.70Z" fill="#ec7c30"/>
<path d="M402.06 208.90L404.31 212.70L399.81 212.70Z" fill="#ec7c30"/>
<path d="M416.43 213.90L418.68 217.70L414.18 217.70Z" fill="#ec7c30"/>
<path d="M430.80 215.20L433.05 219.00L428.55 219.00Z" fill="#ec7c30"/>
<path d="M445.17 185.80L447.42 189.60L442.92 189.60Z" fill="#ec7c30"/>
<path d="M459.54 214.80L461.79 218.60L457.29 218.60Z" fill="#ec7c30"/>
<path d="M473.91 224.80L476.16 228.60L471.66 228.60Z" fill="#ec7c30"/>
<path d="M488.29 224.90L490.54 228.70L486.04 228.70Z" fill="#ec7c30"/>
<path d="M502.66 191.50L504.91 195.30L500.41 195.30Z" fill="#ec7c30"/>
<path d="M517.03 215.70L519.28 219.50L514.78 219.50Z" fill="#ec7c30"/>
<path d="M531.40 221.90L533.65 225.70L529.15 225.70Z" fill="#ec7c30"/>
<path d="M545.77 223.60L548.02 227.40L543.52 227.40Z" fill="#ec7c30"/>
<path d="M560.14 179.60L562.39 183.40L557.89 183.40Z" fill="#ec7c30"/>
<path d="M574.51 218.10L576.76 221.90L572.26 221.90Z" fill="#ec7c30"/>
<path d="M588.89 222.40L591.14 226.20L586.64 226.20Z" fill="#ec7c30"/>
<path d="M603.26 221.90L605.51 225.70L601.01 225.70Z" fill="#ec7c30"/>
<path d="M617.63 187.30L619.88 191.10L615.38 191.10Z" fill="#ec7c30"/>
<path d="M632.00 222.40L634.25 226.20L629.75 226.20Z" fill="#ec7c30"/>
<path d="M646.37 226.40L648.62 230.20L644.12 230.20Z" fill="#ec7c30"/>
<path d="M660.74 228.30L662.99 232.10L658.49 232.10Z" fill="#ec7c30"/>
<path d="M675.11 189.80L677.36 193.60L672.86 193.60Z" fill="#ec7c30"/>
<path d="M528.00 153.20H542.20" stroke="#92cf52" stroke-width="1.5"/>
<circle cx="535.10" cy="153.20" r="2.65" fill="#6fad45"/>
<text class="lg" x="544.10" y="155.80" textLength="4.2" lengthAdjust="spacingAndGlyphs">A</text>
<path d="M579.40 153.20H593.60" stroke="#25a8e1" stroke-width="1.5"/>
<rect x="584.80" y="151.50" width="3.4" height="3.4" fill="#86d0f2" stroke="#1fa6e0" stroke-width="0.9"/>
<text class="lg" x="596.00" y="155.80" textLength="4.2" lengthAdjust="spacingAndGlyphs">B</text>
<path d="M631.40 153.20H645.60" stroke="#ea8038" stroke-width="1.5"/>
<path d="M638.50 151.50L640.75 155.30L636.25 155.30Z" fill="#ec7c30"/>
<text class="lg" x="647.20" y="155.80" textLength="4.2" lengthAdjust="spacingAndGlyphs">C</text>
<text class="tt" x="496.40" y="263.80" text-anchor="middle">T</text>
<text class="tt" x="500.20" y="263.80" text-anchor="middle">i</text>
<text class="tt" x="504.00" y="263.80" text-anchor="middle" textLength="3.9" lengthAdjust="spacingAndGlyphs">m</text>
<text class="tt" x="507.80" y="263.80" text-anchor="middle">e</text>
<text class="tt" x="515.90" y="263.80" text-anchor="middle">(</text>
<text class="tt" x="519.50" y="263.80" text-anchor="middle">h</text>
<text class="tt" x="522.90" y="263.80" text-anchor="middle">)</text>
<text class="yt" transform="translate(355.40 213.60) rotate(-90)" textLength="36.3" lengthAdjust="spacingAndGlyphs">Mesiodistal</text>
<text class="yt" transform="translate(355.40 173.70) rotate(-90)" textLength="16.2" lengthAdjust="spacingAndGlyphs">Force</text>
<text class="yt" transform="translate(355.40 153.20) rotate(-90)" textLength="8.8" lengthAdjust="spacingAndGlyphs">(N)</text>
<text class="pl" x="348.60" y="264.00">d</text>
</svg>
</body></html>
